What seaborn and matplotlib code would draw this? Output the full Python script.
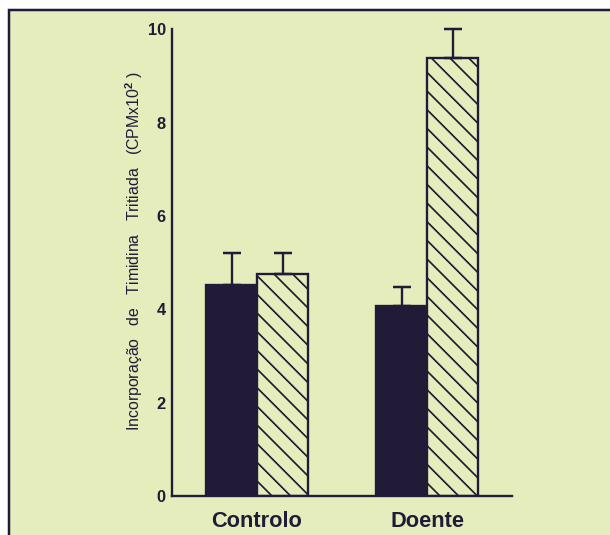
import matplotlib
matplotlib.use("Agg")
import matplotlib.pyplot as plt
import matplotlib.patches as mpatches
import seaborn as sns
import pandas as pd

# ---- data ----
groups = ["Controlo", "Doente"]
conditions = ["Basal", "Estimulado"]
basal_values = [4.52, 4.07]
basal_err = [0.69, 0.40]
estim_values = [4.76, 9.38]
estim_err = [0.45, 0.63]
yticks = [0, 2, 4, 6, 8, 10]
ylabel = "Incorporação   de   Timidina   Tritiada   (CPMx10$^{\\mathbf{2}}$ )"

BG = "#e4edbb"
DARK = "#211b37"

sns.set_theme(style="white")
plt.rcParams["font.family"] = ["Liberation Sans", "DejaVu Sans"]
plt.rcParams["mathtext.fontset"] = "custom"
plt.rcParams["mathtext.rm"] = "Liberation Sans"
plt.rcParams["mathtext.bf"] = "Liberation Sans:bold"
plt.rcParams["hatch.color"] = DARK
plt.rcParams["hatch.linewidth"] = 1.1

df = pd.DataFrame({
    "grupo": groups * 2,
    "cond": [conditions[0]] * 2 + [conditions[1]] * 2,
    "valor": basal_values + estim_values,
})

DPI = 112
fig = plt.figure(figsize=(610 / DPI, 535 / DPI), dpi=DPI)
fig.patch.set_facecolor("white")
# panel background with border (extends beyond right/bottom)
fig.patches.append(mpatches.Rectangle((9 / 610, -0.1), 1.2, 1.1 - 10 / 535,
                                      transform=fig.transFigure, facecolor=BG,
                                      edgecolor=DARK, linewidth=1.6, zorder=-10))

ax = fig.add_axes([172 / 610, 39 / 535, 340 / 610, 466.5 / 535])
ax.set_facecolor("none")

sns.barplot(data=df, x="grupo", y="valor", hue="cond", order=groups,
            hue_order=conditions, palette=[DARK, BG], width=0.6, gap=0,
            errorbar=None, legend=False, ax=ax, saturation=1)

errs = [basal_err, estim_err]
bar_containers = list(ax.containers)
for ci, cont in enumerate(bar_containers):
    xs, ys = [], []
    for p in cont.patches:
        p.set_edgecolor(DARK)
        p.set_linewidth(1.5)
        if ci == 1:
            p.set_facecolor(BG)
            p.set_hatch("\\\\")
        xs.append(p.get_x() + p.get_width() / 2)
        ys.append(p.get_height())
    eb = ax.errorbar(xs, ys, yerr=[[0] * len(ys), errs[ci]], fmt="none",
                     ecolor=DARK, elinewidth=1.5, capsize=5.5, capthick=1.6, zorder=1)
    for art in eb.lines[1] + eb.lines[2]:
        art.set_clip_on(False)

ax.set_ylim(0, 10)
ax.set_xlim(-0.5, 1.5)
ax.set_yticks(yticks)
ax.set_yticklabels([str(t) for t in yticks], fontsize=10.5, fontweight="bold", color=DARK)
ax.set_xticks([0, 1])
ax.set_xticklabels(groups, fontsize=14, fontweight="bold", color=DARK)
ax.tick_params(axis="y", length=0, pad=4)
ax.tick_params(axis="x", length=0, pad=9.5)
ax.set_xlabel("")
ax.set_ylabel(ylabel, fontsize=10.2, color=DARK)
ax.yaxis.set_label_coords(-0.078, 0.524)

for s in ["top", "right"]:
    ax.spines[s].set_visible(False)
for s in ["left", "bottom"]:
    ax.spines[s].set_color(DARK)
    ax.spines[s].set_linewidth(1.5)

fig.savefig("out.png", dpi=DPI)
